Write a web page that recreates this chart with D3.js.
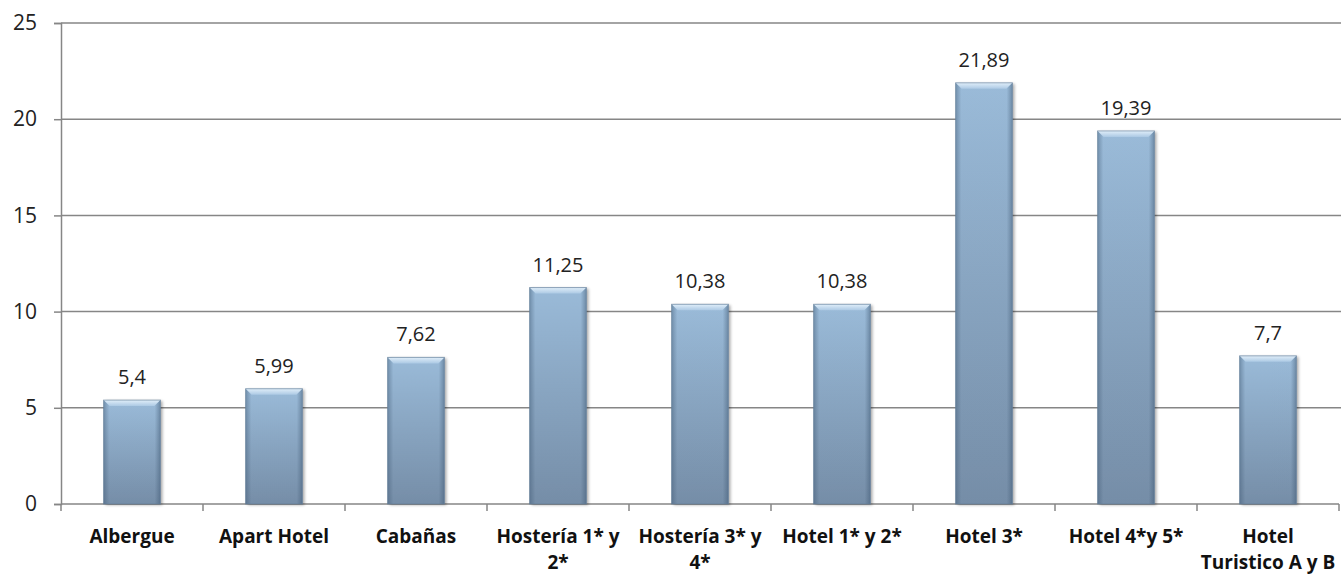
<!DOCTYPE html>
<html>
<head>
<meta charset="utf-8">
<script src="https://cdn.jsdelivr.net/npm/d3@7"></script>
<style>
  html, body { margin: 0; padding: 0; background: #ffffff; }
  svg { display: block; }
</style>
</head>
<body>
<svg id="chart" width="1341" height="574"></svg>
<script>
const categories = ["Albergue", "Apart Hotel", "Cabañas", "Hostería 1* y\n2*", "Hostería 3* y\n4*", "Hotel 1* y 2*", "Hotel 3*", "Hotel 4*y 5*", "Hotel\nTuristico A y B"];
const values = [5.4, 5.99, 7.62, 11.25, 10.38, 10.38, 21.89, 19.39, 7.7];
const valueLabels = ["5,4", "5,99", "7,62", "11,25", "10,38", "10,38", "21,89", "19,39", "7,7"];
const yTicks = [0, 5, 10, 15, 20, 25];

const svg = d3.select("#chart");
const margin = { left: 61, right: 2, top: 23, bottom: 70 };
const W = 1341, H = 574;

const x = d3.scaleBand().domain(categories).range([margin.left, W - margin.right]).paddingInner(0.6).paddingOuter(0.3);
const y = d3.scaleLinear().domain([0, 25]).range([H - margin.bottom, margin.top]);

const defs = svg.append("defs");
const gV = defs.append("linearGradient").attr("id", "gV").attr("x1", 0).attr("y1", 0).attr("x2", 0).attr("y2", 1);
gV.append("stop").attr("offset", "0%").attr("stop-color", "#9fc0de");
gV.append("stop").attr("offset", "100%").attr("stop-color", "#7890aa");
const gH = defs.append("linearGradient").attr("id", "gH").attr("x1", 0).attr("y1", 0).attr("x2", 1).attr("y2", 0);
gH.append("stop").attr("offset", "0%").attr("stop-color", "#3d5670").attr("stop-opacity", 0.45);
gH.append("stop").attr("offset", "10%").attr("stop-color", "#3d5670").attr("stop-opacity", 0.05);
gH.append("stop").attr("offset", "90%").attr("stop-color", "#3d5670").attr("stop-opacity", 0.05);
gH.append("stop").attr("offset", "100%").attr("stop-color", "#3d5670").attr("stop-opacity", 0.5);
const gTop = defs.append("linearGradient").attr("id", "gTop").attr("x1", 0).attr("y1", 0).attr("x2", 0).attr("y2", 1);
gTop.append("stop").attr("offset", "0%").attr("stop-color", "#e0eef9");
gTop.append("stop").attr("offset", "100%").attr("stop-color", "#acc9e4");
const shadow = defs.append("filter").attr("id", "shadow").attr("x", "-20%").attr("y", "-20%").attr("width", "140%").attr("height", "140%");
shadow.append("feGaussianBlur").attr("in", "SourceAlpha").attr("stdDeviation", 1.5);
shadow.append("feOffset").attr("dx", 1.5).attr("dy", 1).attr("result", "b");
shadow.append("feComponentTransfer").append("feFuncA").attr("type", "linear").attr("slope", 0.35);
const fm = shadow.append("feMerge");
fm.append("feMergeNode");
fm.append("feMergeNode").attr("in", "SourceGraphic");

const gridColor = "#868686";

// Gridlines
svg.append("g").selectAll("line").data(yTicks.filter(d => d > 0)).join("line")
  .attr("x1", margin.left).attr("x2", W)
  .attr("y1", d => y(d)).attr("y2", d => y(d))
  .attr("stroke", gridColor).attr("stroke-width", 1.5);

// Y axis
const yAxis = svg.append("g").attr("transform", `translate(${margin.left},0)`)
  .call(d3.axisLeft(y).tickValues(yTicks).tickSize(7).tickPadding(17).tickFormat(d => d));
yAxis.select(".domain").attr("stroke", gridColor).attr("stroke-width", 1.5);
yAxis.selectAll(".tick line").attr("stroke", gridColor).attr("stroke-width", 1.5);
yAxis.selectAll("text").attr("font-family", "'Open Sans', sans-serif").attr("font-size", 21).attr("fill", "#222");

// X axis
const xAxisY = y(0);
const xg = svg.append("g");
xg.append("line").attr("x1", margin.left).attr("x2", W - margin.right).attr("y1", xAxisY).attr("y2", xAxisY)
  .attr("stroke", gridColor).attr("stroke-width", 1.5);
const boundaries = categories.map(c => x(c) - x.step() * x.paddingInner() / 2);
boundaries.push(W - margin.right);
boundaries[0] = margin.left;
xg.selectAll("line.tk").data(boundaries).join("line").attr("class", "tk")
  .attr("x1", d => d).attr("x2", d => d).attr("y1", xAxisY).attr("y2", xAxisY + 7)
  .attr("stroke", gridColor).attr("stroke-width", 1.5);

// Bars
const bars = svg.append("g").selectAll("g.bar").data(categories).join("g").attr("class", "bar");
bars.each(function(c, i) {
  const g = d3.select(this);
  const bx = x(c), bw = x.bandwidth(), by = y(values[i]), bh = y(0) - y(values[i]);
  const bev = 6;
  g.append("rect").attr("x", bx).attr("y", by).attr("width", bw).attr("height", bh)
    .attr("fill", "url(#gV)").attr("filter", "url(#shadow)");
  g.append("rect").attr("x", bx).attr("y", by).attr("width", bw).attr("height", bh)
    .attr("fill", "url(#gH)");
  g.append("polygon")
    .attr("points", `${bx},${by} ${bx + bw},${by} ${bx + bw - bev},${by + bev} ${bx + bev},${by + bev}`)
    .attr("fill", "url(#gTop)");
  g.append("rect").attr("x", bx).attr("y", by).attr("width", bw).attr("height", bh)
    .attr("fill", "none").attr("stroke", "#5f7a94").attr("stroke-opacity", 0.6).attr("stroke-width", 1);
});

// Value labels
svg.append("g").selectAll("text").data(categories).join("text")
  .attr("x", c => x(c) + x.bandwidth() / 2)
  .attr("y", (c, i) => y(values[i]) - 16)
  .attr("text-anchor", "middle")
  .attr("font-family", "'Open Sans', sans-serif").attr("font-size", 20).attr("fill", "#222")
  .text((c, i) => valueLabels[i]);

// Category labels
const cl = svg.append("g").selectAll("text").data(categories).join("text")
  .attr("x", c => x(c) + x.bandwidth() / 2)
  .attr("y", xAxisY + 39)
  .attr("text-anchor", "middle")
  .attr("font-family", "'Open Sans', sans-serif").attr("font-weight", "bold").attr("font-size", 19).attr("fill", "#111");
cl.each(function(c) {
  const t = d3.select(this);
  c.split("\n").forEach((line, k) => {
    t.append("tspan").attr("x", x(c) + x.bandwidth() / 2).attr("dy", k === 0 ? 0 : 26).text(line);
  });
});
</script>
</body>
</html>
